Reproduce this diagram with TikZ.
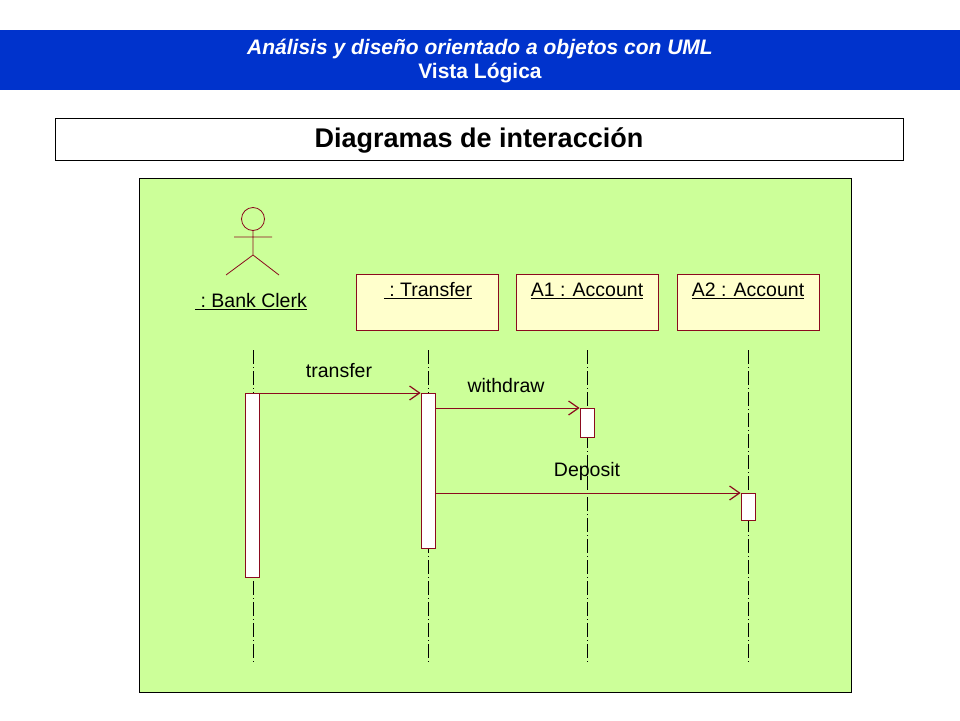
\documentclass[tikz,border=0pt]{standalone}
\usepackage{fontspec}
\setmainfont{Liberation Sans}
\usetikzlibrary{arrows.meta}
\definecolor{hdr}{HTML}{0033CC}
\definecolor{pan}{HTML}{CCFF99}
\definecolor{obj}{HTML}{FFFFCC}
\definecolor{dr}{HTML}{8B0A1E}
\tikzset{
 objbox/.style={draw=dr,fill=obj,minimum width=142pt,minimum height=56pt,anchor=north west,inner sep=0pt},
 objlbl/.style={font=\fontsize{19.5}{22}\selectfont},
 life/.style={draw=black,dash pattern=on 14pt off 3pt on 1pt off 3pt},
 act/.style={draw=dr,fill=white,minimum width=14pt,inner sep=0pt,anchor=north},
 msg/.style={draw=dr,-{Straight Barb[length=10pt,width=14pt,line width=1.2pt]}},
 mlbl/.style={font=\fontsize{19.5}{22}\selectfont}
}
\begin{document}
\begin{tikzpicture}[x=1pt,y=-1pt,line width=0.8pt]
\useasboundingbox (0,0) rectangle (960,720);
\fill[hdr] (0,30) rectangle (960,90);
\node[text=white,font=\bfseries\itshape\fontsize{21}{24}\selectfont] (h1) at (480,49) {Análisis y diseño orientado a objetos con UML};
\node[text=white,font=\bfseries\fontsize{21}{24}\selectfont] (h2) at (480,73) {Vista Lógica};
\draw (55,118) rectangle (903,160);
\node[font=\bfseries\fontsize{27}{30}\selectfont] (t) at (479,140) {Diagramas de interacción};
\draw[fill=pan] (139,178) rectangle (851,692);
% actor
\draw[dr] (253,219) circle (11.5);
\draw[dr] (253,230.5) -- (253,255) (234,237) -- (272,237) (253,255) -- (226,275) (253,255) -- (279,275);
\node[objlbl] (clerk) at (251,302) {\underline{\ :\ Bank\ Clerk}};
\node[objbox] (tr) at (356,274) {};
\node[objbox] (a1) at (516,274) {};
\node[objbox] (a2) at (677,274) {};
\node[objlbl] at (428,291) {\underline{\ :\ Transfer}};
\node[objlbl] at (587,291) {\underline{A1 : Account}};
\node[objlbl] at (748,291) {\underline{A2 : Account}};
\coordinate (l1s) at (253,350); \coordinate (l1e) at (253,665);
\coordinate (l2s) at (428,350); \coordinate (l2e) at (428,665);
\coordinate (l3s) at (587,350); \coordinate (l3e) at (587,665);
\coordinate (l4s) at (748,350); \coordinate (l4e) at (748,665);
\draw[life] (l1s) -- (l1e); \draw[life] (l2s) -- (l2e);
\draw[life] (l3s) -- (l3e); \draw[life] (l4s) -- (l4e);
\node[act,minimum height=184pt] (b1) at (252,393) {};
\node[act,minimum height=155pt] (b2) at (428,393) {};
\node[act,minimum height=29pt] (b3) at (587,408) {};
\node[act,minimum height=27pt] (b4) at (748,493) {};
\draw[msg] (b1.north east) -- (b2.north west);
\draw[msg] (b2.east |- b3.north) -- (b3.north west);
\draw[msg] (b2.east |- b4.north) -- (b4.north west);
\node[mlbl] at (339,371) {transfer};
\node[mlbl] at (506,386) {withdraw};
\node[mlbl] at (587,471) {Deposit};
\end{tikzpicture}
\end{document}
